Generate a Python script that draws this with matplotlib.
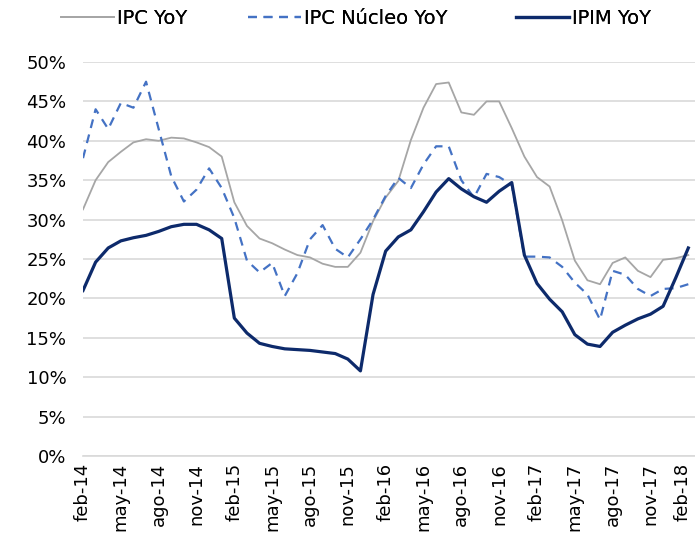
import numpy as np
import matplotlib
matplotlib.use("Agg")
import matplotlib.pyplot as plt
import matplotlib.transforms as mtransforms
from matplotlib.lines import Line2D
from matplotlib.ticker import PercentFormatter

# monthly series, feb-14 .. feb-18 (values in %)
ipc_yoy = [31.3, 35.0, 37.3, 38.6, 39.8, 40.2, 40.0, 40.4, 40.3, 39.8,
           39.2, 38.0, 32.2, 29.2, 27.6, 27.0, 26.2, 25.5, 25.2, 24.4,
           24.0, 24.0, 25.8, 29.8, 32.8, 34.9, 40.1, 44.2, 47.2, 47.4,
           43.6, 43.3, 45.0, 45.0, 41.6, 38.0, 35.4, 34.2, 29.9, 24.8,
           22.3, 21.8, 24.5, 25.2, 23.5, 22.7, 24.9, 25.1, 25.5]

nucleo_yoy = [37.8, 44.0, 41.5, 44.8, 44.2, 47.5, 41.5, 35.5, 32.3, 33.8,
              36.5, 34.0, 30.2, 24.8, 23.3, 24.5, 20.3, 23.2, 27.5, 29.3,
              26.3, 25.2, 27.5, 30.0, 33.0, 35.3, 34.0, 37.0, 39.3, 39.3,
              35.0, 32.8, 35.8, 35.4, 34.4, 25.3, 25.3, 25.2, 24.0, 22.0,
              20.5, 17.3, 23.5, 23.0, 21.2, 20.3, 21.2, 21.3, 21.8]

ipim_yoy = [21.0, 24.6, 26.4, 27.3, 27.7, 28.0, 28.5, 29.1, 29.4, 29.4,
            28.7, 27.6, 17.5, 15.6, 14.3, 13.9, 13.6, 13.5, 13.4, 13.2,
            13.0, 12.3, 10.8, 20.5, 26.0, 27.8, 28.7, 31.0, 33.5, 35.2,
            33.9, 32.9, 32.2, 33.6, 34.7, 25.5, 21.9, 19.9, 18.3, 15.4,
            14.2, 13.9, 15.7, 16.6, 17.4, 18.0, 19.0, 22.6, 26.4]

tick_labels = ["feb-14", "may-14", "ago-14", "nov-14",
               "feb-15", "may-15", "ago-15", "nov-15",
               "feb-16", "may-16", "ago-16", "nov-16",
               "feb-17", "may-17", "ago-17", "nov-17", "feb-18"]

GRAY = "#a6a6a6"
BLUE = "#4472c4"
NAVY = "#0d2a6b"
GRID = "#d9d9d9"

x = np.arange(len(ipc_yoy))

fig = plt.figure(figsize=(6.95, 5.5), dpi=100)
ax = fig.add_axes([83 / 695, 94 / 550, 612 / 695, 394 / 550])

ax.plot(x, ipc_yoy, color=GRAY, lw=1.3)
ax.plot(x, nucleo_yoy, color=BLUE, lw=1.6, dashes=(4, 3))
ax.plot(x, ipim_yoy, color=NAVY, lw=2.3)

ax.set_xlim(0, 48.53)
ax.set_ylim(0, 50)
ax.set_yticks(np.arange(0, 51, 5))
ax.yaxis.set_major_formatter(PercentFormatter(xmax=100, decimals=0))
ax.set_xticks(x[::3])
ax.set_xticklabels(tick_labels, rotation=90)
ax.grid(axis="y", color=GRID, lw=1.2)
ax.set_axisbelow(True)
for side in ["left", "right", "top"]:
    ax.spines[side].set_visible(False)
ax.spines["bottom"].set_color(GRID)
ax.spines["bottom"].set_linewidth(1.2)
ax.tick_params(axis="y", length=0, pad=12, labelsize=13)
ax.tick_params(axis="x", length=0, pad=5, labelsize=13)

# last label sits on the right edge, nudge it inside
last = ax.get_xticklabels()[-1]
last.set_transform(last.get_transform() +
                   mtransforms.ScaledTranslation(-4 / 72, 0, fig.dpi_scale_trans))

# legend entries placed one by one along the top
entries = [
    (Line2D([], [], color=GRAY, lw=1.3), "IPC YoY", 61),
    (Line2D([], [], color=BLUE, lw=1.6, dashes=(4, 3)), "IPC Núcleo YoY", 248),
    (Line2D([], [], color=NAVY, lw=2.3), "IPIM YoY", 516),
]
for handle, label, xpix in entries:
    leg = fig.legend([handle], [label], loc="center left",
                     bbox_to_anchor=(xpix / 695, 1 - 18 / 550),
                     frameon=False, borderpad=0, borderaxespad=0,
                     handlelength=2.7, handletextpad=0.2, fontsize=14)
    fig.add_artist(leg)

fig.savefig("out.png", dpi=100)
